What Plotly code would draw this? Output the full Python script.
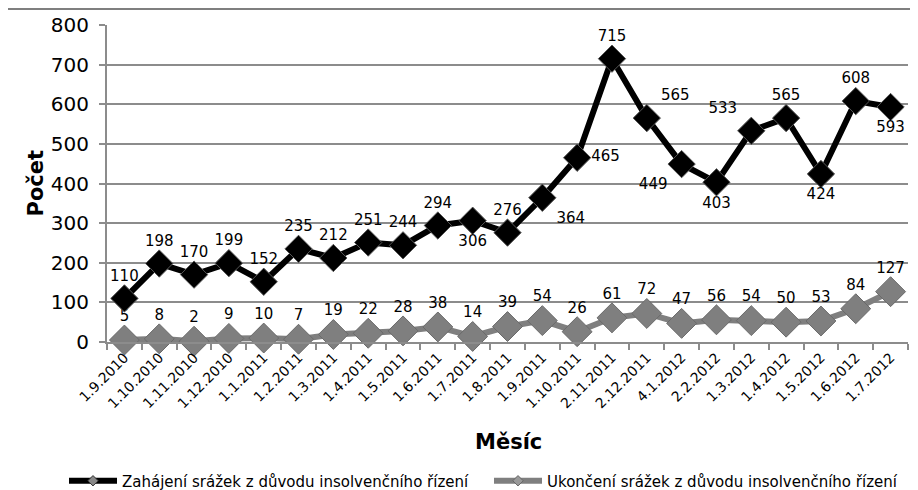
import plotly.graph_objects as go

months = ["1.9.2010", "1.10.2010", "1.11.2010", "1.12.2010", "1.1.2011", "1.2.2011",
          "1.3.2011", "1.4.2011", "1.5.2011", "1.6.2011", "1.7.2011", "1.8.2011",
          "1.9.2011", "1.10.2011", "2.11.2011", "2.12.2011", "4.1.2012", "2.2.2012",
          "1.3.2012", "1.4.2012", "1.5.2012", "1.6.2012", "1.7.2012"]
zahajeni = [110, 198, 170, 199, 152, 235, 212, 251, 244, 294, 306, 276,
            364, 465, 715, 565, 449, 403, 533, 565, 424, 608, 593]
ukonceni = [5, 8, 2, 9, 10, 7, 19, 22, 28, 38, 14, 39,
            54, 26, 61, 72, 47, 56, 54, 50, 53, 84, 127]

name_z = "Zahájení srážek z důvodu insolvenčního řízení"
name_u = "Ukončení srážek z důvodu insolvenčního řízení"

pos_z = ["top center"] * 10 + ["bottom center", "top center", "bottom right", "middle right",
         "top center", "top right", "bottom left", "bottom center", "top left",
         "top center", "bottom center", "top center", "bottom center"]

FONT = "DejaVu Sans, Verdana, sans-serif"
BLACK = "#000000"
GRAY = "#7f7f7f"

fig = go.Figure()
fig.add_trace(go.Scatter(
    x=months, y=ukonceni, name=name_u, mode="lines+markers+text", showlegend=False,
    line=dict(color=GRAY, width=6),
    marker=dict(symbol="diamond", size=23, color=GRAY, line=dict(color="#6a6a6a", width=1)),
    text=[str(v) for v in ukonceni], textposition="top center",
    textfont=dict(family=FONT, size=15, color="#000"),
    cliponaxis=False,
))
fig.add_trace(go.Scatter(
    x=months, y=zahajeni, name=name_z, mode="lines+markers+text", showlegend=False,
    line=dict(color=BLACK, width=6),
    marker=dict(symbol="diamond", size=21, color=BLACK, line=dict(color="#555555", width=1)),
    text=[str(v) for v in zahajeni], textposition=pos_z,
    textfont=dict(family=FONT, size=15, color="#000"),
    cliponaxis=False,
))
# legend-only entries (no data) with the small legend symbols
fig.add_trace(go.Scatter(
    x=[None], y=[None], name=name_z, mode="lines+markers",
    line=dict(color=BLACK, width=6),
    marker=dict(symbol="diamond", size=8, color="#888888", line=dict(color="#333333", width=1)),
))
fig.add_trace(go.Scatter(
    x=[None], y=[None], name=name_u, mode="lines+markers",
    line=dict(color=GRAY, width=6),
    marker=dict(symbol="diamond", size=8, color="#999999", line=dict(color="#666666", width=1)),
))

# the page body adds an 8px offset; work in screen pixels of the window
OFF = 8
W, H = 918, 490
X0, X1 = 107, 908     # plot area left/right on screen
Y0, Y1 = 25, 342      # plot area top/bottom on screen
L, R = X0 - OFF, W - (X1 - OFF)
T, B = Y0 - OFF, H - (Y1 - OFF)
pw, ph = X1 - X0, Y1 - Y0

def px_x(p):
    return (p - X0) / pw

def px_y(p):
    return (Y1 - p) / ph

fig.update_layout(
    width=W, height=H,
    margin=dict(l=L, r=R, t=T, b=B, autoexpand=False),
    paper_bgcolor="white", plot_bgcolor="white",
    font=dict(family=FONT, color="#000"),
    showlegend=True,
    legend=dict(orientation="h", x=px_x(64), xanchor="left", y=px_y(481), yanchor="middle",
                font=dict(family=FONT, size=15), itemwidth=48,
                entrywidth=362, entrywidthmode="pixels",
                bgcolor="rgba(0,0,0,0)"),
    xaxis=dict(type="category", range=[-0.5, len(months) - 0.5], tickangle=-45,
               tickfont=dict(family=FONT, size=14), showgrid=False, automargin=False,
               showline=True, linecolor="#8c8c8c", linewidth=2,
               ticks="outside", tickson="boundaries", ticklen=6, tickcolor="#8c8c8c", tickwidth=2),
    yaxis=dict(range=[0, 800], dtick=100, tickfont=dict(family=FONT, size=20), automargin=False,
               ticklabelstandoff=6,
               showgrid=True, gridcolor="#8c8c8c", gridwidth=2, zeroline=False,
               showline=True, linecolor="#8c8c8c", linewidth=2,
               ticks="outside", ticklen=6, tickcolor="#8c8c8c", tickwidth=2),
    annotations=[
        dict(text="<b>Počet</b>", xref="paper", yref="paper", x=px_x(35), y=0.5,
             textangle=-90, showarrow=False, font=dict(family=FONT, size=21),
             xanchor="center", yanchor="middle"),
        dict(text="<b>Měsíc</b>", xref="paper", yref="paper", x=px_x(508), y=px_y(442),
             showarrow=False, font=dict(family=FONT, size=21),
             xanchor="center", yanchor="middle"),
    ],
    shapes=[dict(type="rect", xref="paper", yref="paper",
                 x0=px_x(7), x1=px_x(940), y0=px_y(520), y1=px_y(9),
                 line=dict(color="#555555", width=1.5), fillcolor="rgba(0,0,0,0)", layer="below")],
)

fig.write_html("out.html")
